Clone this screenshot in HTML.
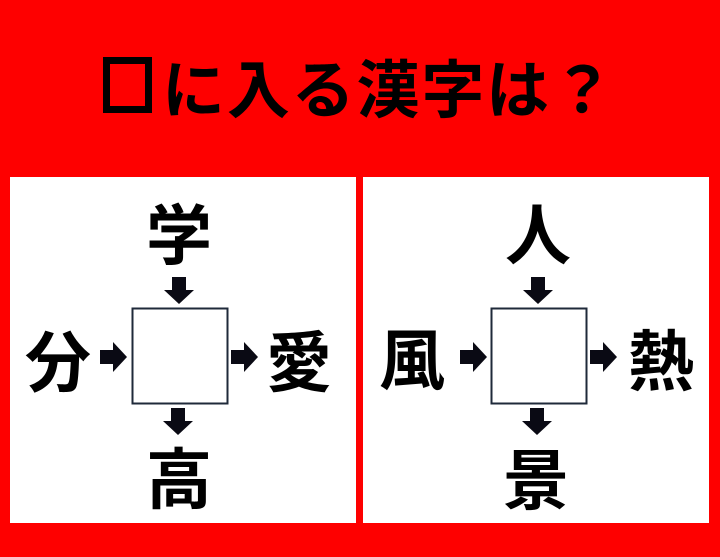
<!DOCTYPE html>
<html><head><meta charset="utf-8"><style>
html,body{margin:0;padding:0;background:#f00;}
svg{display:block}
text{font-family:"Noto Sans CJK JP",sans-serif;font-weight:bold;fill:#000}
</style></head><body>
<svg width="720" height="557" viewBox="0 0 720 557" xmlns="http://www.w3.org/2000/svg">
<rect width="720" height="557" fill="#fe0000"/>
<rect x="106.5" y="60.5" width="42" height="49" fill="none" stroke="#000" stroke-width="7"/>
<text x="162" y="86" font-size="63" text-anchor="start" dominant-baseline="central" style="font-weight:bold" textLength="452" lengthAdjust="spacing">に入る漢字は？</text>
<rect x="10" y="177" width="346" height="346" fill="#fff"/>
<rect x="363" y="177" width="346" height="346" fill="#fff"/>
<defs>
<g id="ar"><rect x="0" y="-7" width="14" height="14"/><polygon points="13,-15 27,0 13,15"/></g>
</defs>
<g fill="#0a0a14">
<rect x="132.5" y="308.5" width="95" height="95" fill="none" stroke="#1f2a3a" stroke-width="2"/>
<use href="#ar" transform="translate(100,357)"/>
<use href="#ar" transform="translate(231,357)"/>
<use href="#ar" transform="translate(179,277) rotate(90)"/>
<use href="#ar" transform="translate(178,408) rotate(90)"/>
<rect x="491.5" y="308.5" width="95" height="95" fill="none" stroke="#1f2a3a" stroke-width="2"/>
<use href="#ar" transform="translate(460,357)"/>
<use href="#ar" transform="translate(590,357)"/>
<use href="#ar" transform="translate(538,277) rotate(90)"/>
<use href="#ar" transform="translate(537,408) rotate(90)"/>
</g>
<g font-size="66" text-anchor="middle" dominant-baseline="central">
<text x="179" y="231">学</text>
<text x="58" y="358">分</text>
<text x="299" y="358">愛</text>
<text x="179" y="475">高</text>
<text x="538" y="231">人</text>
<text x="412" y="356">風</text>
<text x="661" y="357">熱</text>
<text x="536" y="476">景</text>
</g>
</svg>
</body></html>
